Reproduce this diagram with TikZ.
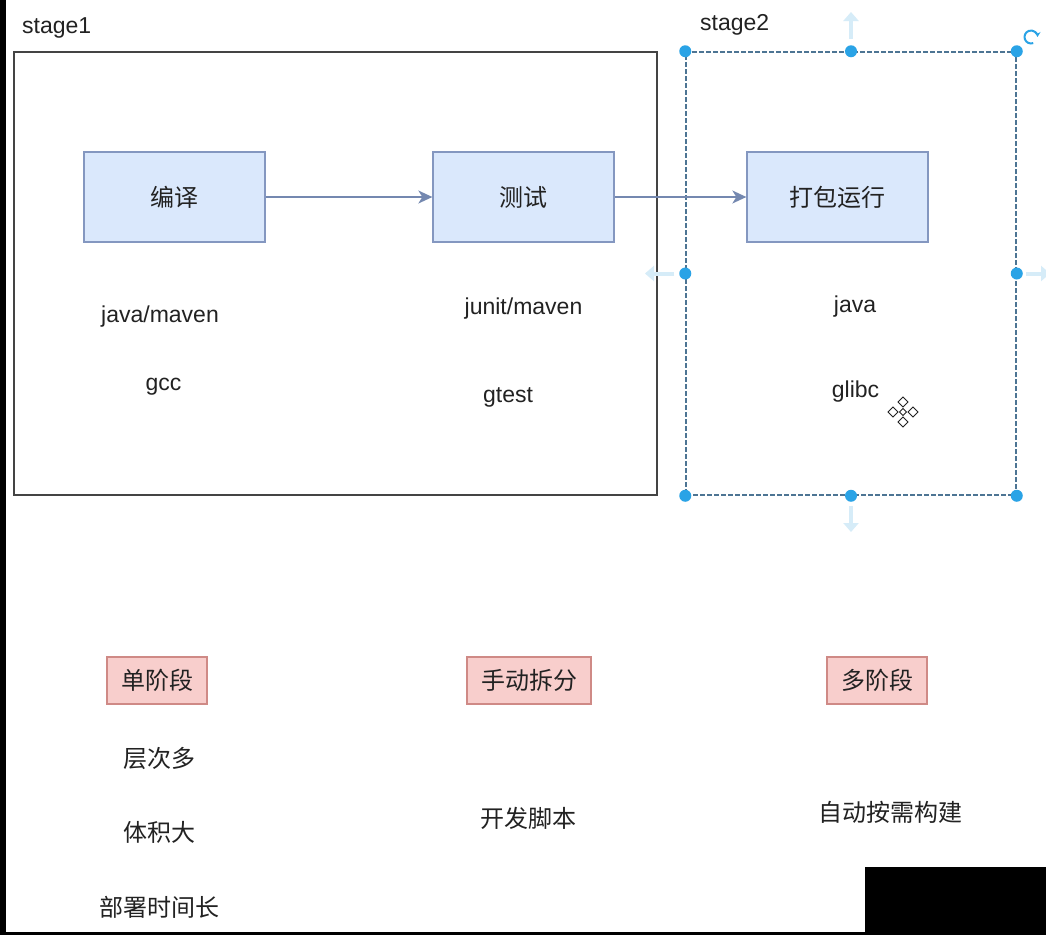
\documentclass[tikz,border=0pt]{standalone}
\usepackage{fontspec}
\setmainfont{Liberation Sans}
\newfontfamily\cjk{Noto Sans CJK SC}
\usetikzlibrary{arrows.meta}
\definecolor{txt}{HTML}{222222}
\definecolor{frameC}{HTML}{444444}
\definecolor{boxF}{HTML}{DAE8FC}
\definecolor{boxC}{HTML}{8497C0}
\definecolor{flowC}{HTML}{7488B0}
\definecolor{pinkF}{HTML}{F8CECC}
\definecolor{pinkC}{HTML}{CF8A86}
\definecolor{selC}{HTML}{4D7594}
\definecolor{handleC}{HTML}{2AA3E6}
\definecolor{ghostC}{HTML}{D6ECF8}
\begin{document}
\begin{tikzpicture}[x=1pt,y=-1pt,
  frame/.style={draw=frameC, line width=1.8pt, minimum width=643pt, minimum height=443pt, inner sep=0pt},
  selbox/.style={draw=selC, line width=1.5pt, dash pattern=on 5pt off 2pt, minimum width=330pt, minimum height=443pt, inner sep=0pt},
  stepbox/.style={draw=boxC, fill=boxF, line width=1.3pt, minimum width=181pt, minimum height=90pt, inner sep=0pt, text=txt, font=\cjk\fontsize{24}{28}\selectfont},
  pinkbox/.style={draw=pinkC, fill=pinkF, line width=1.3pt, minimum height=47pt, inner sep=0pt, text=txt, font=\cjk\fontsize{24}{28}\selectfont},
  lbl/.style={inner sep=0pt, anchor=base, text=txt, font=\fontsize{23}{28}\selectfont},
  cjklbl/.style={inner sep=0pt, text=txt, font=\cjk\fontsize{24}{28}\selectfont},
  flow/.style={draw=flowC, line width=1.5pt, -{Stealth[length=14pt,width=13pt,inset=4pt]}},
  ghost/.style={draw=ghostC, line width=4pt, -{Triangle[length=9pt,width=15pt]}},
  handle/.style={fill=handleC},
  iconline/.style={draw=txt, line width=1pt, fill=white}
]
\useasboundingbox (0,0) rectangle (1046,935);
\fill[white] (0,0) rectangle (1046,935);

% frames
\node[frame] (stage1box) at (335.5,273.5) {};
\node[selbox] (stage2box) at (851,273.5) {};
\node[lbl, anchor=base west] (s1) at (22,33) {stage1};
\node[lbl, anchor=base west] (s2) at (700,30) {stage2};

% step boxes
\node[stepbox] (bianyi) at (174.5,197) {编译};
\node[stepbox] (ceshi) at (523.5,197) {测试};
\node[stepbox] (dabao) at (837.5,197) {打包运行};
\draw[flow] (bianyi) -- (ceshi);
\draw[flow] (ceshi) -- (dabao);

% tool labels
\node[lbl] (jm) at (160,322) {java/maven};
\node[lbl] (gcc) at (163.5,390) {gcc};
\node[lbl] (ju) at (523.5,314) {junit/maven};
\node[lbl] (gt) at (508,402) {gtest};
\node[lbl] (jv) at (855,312) {java};
\node[lbl] (gl) at (855.5,397) {glibc};

% selection handles
\draw[ghost] (851,39) -- (851,12);
\draw[ghost] (851,506) -- (851,532);
\draw[ghost] (674,273.5) -- (645,273.5);
\draw[ghost] (1026,273.5) -- (1050,273.5);
\foreach \a in {north west, north, north east, west, east, south west, south, south east}
  \fill[handle] (stage2box.\a) circle (6pt);
\draw[handleC, line width=2pt, -{Stealth[length=5pt,width=6pt]}] (1031,37) ++(70:6.5) arc[start angle=70, end angle=360, radius=6.5];

% move cursor icon
\foreach \dx/\dy/\r in {0/-10/5, 0/10/5, -10/0/5, 10/0/5, 0/0/3.5}
  \draw[iconline] (903+\dx,412+\dy) +(-\r,0) -- +(0,-\r) -- +(\r,0) -- +(0,\r) -- cycle;

% comparison row
\node[pinkbox, minimum width=100pt] (p1) at (157,680.5) {单阶段};
\node[pinkbox, minimum width=124pt] (p2) at (529,680.5) {手动拆分};
\node[pinkbox, minimum width=100pt] (p3) at (877,680.5) {多阶段};
\node[cjklbl] (c1) at (159,758) {层次多};
\node[cjklbl] (c2) at (159,832.5) {体积大};
\node[cjklbl] (c3) at (159.5,907) {部署时间长};
\node[cjklbl] (c4) at (528.5,818) {开发脚本};
\node[cjklbl] (c5) at (890.5,812.5) {自动按需构建};

% black screen edges
\fill[black] (0,0) rectangle (6,935);
\fill[black] (0,932) rectangle (1046,935);
\fill[black] (865,867) rectangle (1046,935);
\end{tikzpicture}
\end{document}
